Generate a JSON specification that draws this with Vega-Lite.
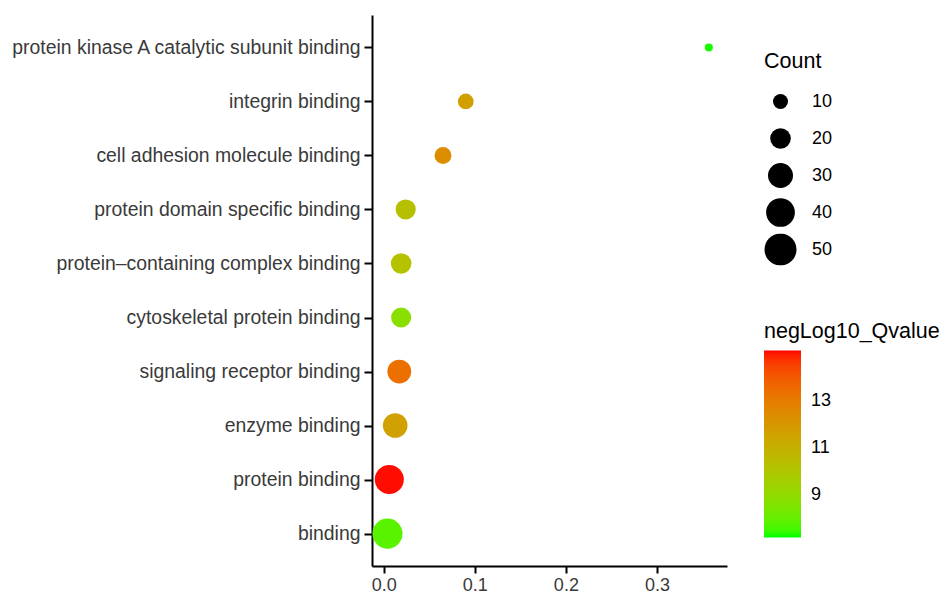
{
  "$schema": "https://vega.github.io/schema/vega-lite/v6.json",
  "autosize": {"type": "none"},
  "width": 355,
  "height": 551,
  "padding": {"left": 372, "top": 15, "right": 219, "bottom": 26},
  "background": "white",
  "config": {
    "view": {"stroke": null},
    "font": "Liberation Sans"
  },
  "data": {
    "values": [
      {"term": "protein kinase A catalytic subunit binding", "GeneRatio": 0.357, "Count": 2, "negLog10_Qvalue": 7.25},
      {"term": "integrin binding", "GeneRatio": 0.090, "Count": 11, "negLog10_Qvalue": 11.7},
      {"term": "cell adhesion molecule binding", "GeneRatio": 0.065, "Count": 13, "negLog10_Qvalue": 12.4},
      {"term": "protein domain specific binding", "GeneRatio": 0.024, "Count": 19, "negLog10_Qvalue": 10.3},
      {"term": "protein\u2013containing complex binding", "GeneRatio": 0.019, "Count": 20, "negLog10_Qvalue": 10.2},
      {"term": "cytoskeletal protein binding", "GeneRatio": 0.019, "Count": 19, "negLog10_Qvalue": 8.8},
      {"term": "signaling receptor binding", "GeneRatio": 0.017, "Count": 27, "negLog10_Qvalue": 13.4},
      {"term": "enzyme binding", "GeneRatio": 0.0125, "Count": 29, "negLog10_Qvalue": 11.6},
      {"term": "protein binding", "GeneRatio": 0.006, "Count": 41, "negLog10_Qvalue": 15.1},
      {"term": "binding", "GeneRatio": 0.004, "Count": 44, "negLog10_Qvalue": 7.8}
    ]
  },
  "mark": {"type": "point", "filled": true, "opacity": 1, "shape": "circle"},
  "encoding": {
    "x": {
      "field": "GeneRatio",
      "type": "quantitative",
      "scale": {"domain": [-0.013, 0.377], "nice": false, "zero": false},
      "axis": {
        "title": null,
        "values": [0, 0.1, 0.2, 0.3],
        "format": ".1f",
        "grid": false,
        "domainColor": "#000000",
        "domainWidth": 2,
        "tickColor": "#000000",
        "tickWidth": 2,
        "tickSize": 7,
        "labelFontSize": 18,
        "labelColor": "#3a3a3a",
        "labelPadding": 3,
        "labelFont": "Liberation Sans"
      }
    },
    "y": {
      "field": "term",
      "type": "nominal",
      "sort": [
        "protein kinase A catalytic subunit binding",
        "integrin binding",
        "cell adhesion molecule binding",
        "protein domain specific binding",
        "protein\u2013containing complex binding",
        "cytoskeletal protein binding",
        "signaling receptor binding",
        "enzyme binding",
        "protein binding",
        "binding"
      ],
      "scale": {"type": "point", "padding": 0.6},
      "axis": {
        "title": null,
        "grid": false,
        "domainColor": "#000000",
        "domainWidth": 2,
        "tickColor": "#000000",
        "tickWidth": 2,
        "tickSize": 8,
        "labelFontSize": 19.4,
        "labelColor": "#3a3a3a",
        "labelPadding": 4,
        "labelLimit": 400,
        "labelFont": "Liberation Sans"
      }
    },
    "size": {
      "field": "Count",
      "type": "quantitative",
      "scale": {"domain": [2, 50], "range": [65, 1025], "zero": false},
      "legend": {
        "title": "Count",
        "orient": "none",
        "legendX": 392,
        "legendY": 36,
        "values": [10, 20, 30, 40, 50],
        "symbolFillColor": "#000000",
        "symbolStrokeWidth": 0,
        "clipHeight": 32,
        "rowPadding": 5,
        "titleFontSize": 21.5,
        "titleFontWeight": "normal",
        "titleColor": "#000000",
        "titlePadding": 13,
        "labelFontSize": 18,
        "labelColor": "#000000",
        "labelOffset": 15
      }
    },
    "color": {
      "field": "negLog10_Qvalue",
      "type": "quantitative",
      "scale": {"domain": [7.2, 15.15], "range": ["#00FF00", "#FF0000"], "interpolate": "lab"},
      "legend": {
        "title": "negLog10_Qvalue",
        "orient": "none",
        "legendX": 392,
        "legendY": 306,
        "direction": "vertical",
        "gradientLength": 187,
        "gradientThickness": 37,
        "gradientStrokeWidth": 0,
        "values": [9, 11, 13],
        "titleFontSize": 21.5,
        "titleFontWeight": "normal",
        "titleColor": "#000000",
        "titlePadding": 8,
        "labelFontSize": 18,
        "labelColor": "#000000",
        "labelOffset": 10
      }
    }
  }
}
